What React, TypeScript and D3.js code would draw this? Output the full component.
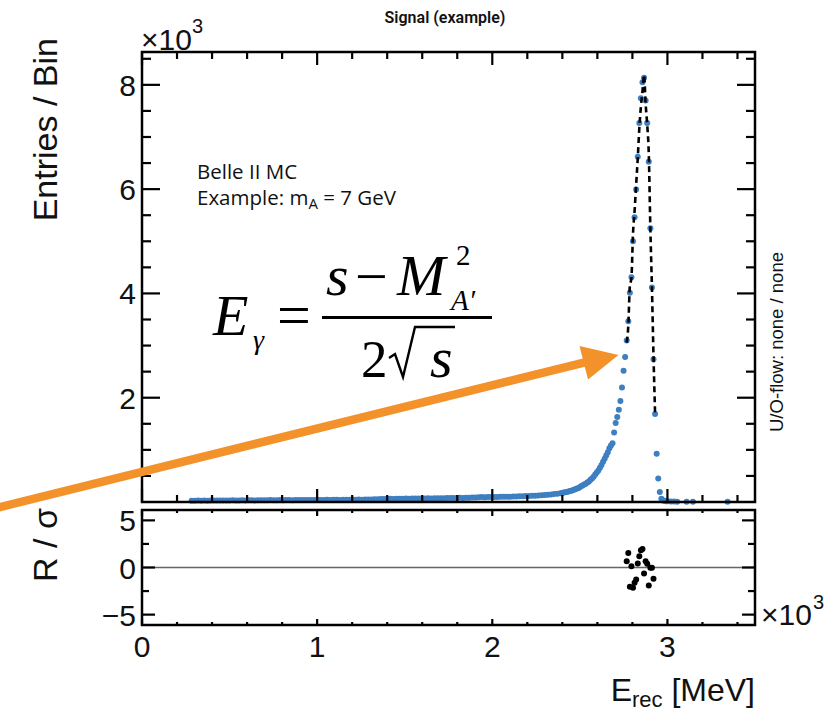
import React from 'react';
import * as d3 from 'd3';

// Histogram binning (E_rec in units of 10^3 MeV)
const BIN_WIDTH = 0.009;

// Low-energy tail: every 2nd bin starting at bin 31
const TAIL_FIRST_BIN = 31;
const TAIL_BIN_STRIDE = 2;
const tailEntries = [
  22, 25, 27, 24, 28, 26, 29, 27, 30, 28, 31, 29, 30, 32, 29,
  31, 33, 30, 32, 34, 31, 33, 35, 32, 34, 36, 33, 35, 37, 34,
  36, 38, 35, 37, 39, 36, 38, 40, 37, 39, 41, 38, 40, 42, 39,
  41, 43, 40, 42, 45, 43, 46, 44, 47, 45, 48, 50, 47, 52, 55,
  58, 56, 60, 62, 59, 61, 64, 62, 65, 63, 66, 68, 65, 69, 67,
  70, 68, 72, 71, 74, 72, 76, 75, 78, 76, 80, 79, 82, 81, 84,
  86, 90, 95, 92, 96, 94, 98, 96, 100, 99, 103, 101, 105, 104, 108,
  110, 113, 116, 119, 122, 126, 130, 135, 140, 146, 152, 159, 166,
];

// Rising edge and peak: every bin from bin 266 to 329
const PEAK_FIRST_BIN = 266;
const peakEntries = [
  172, 180, 186, 194, 201, 210, 218, 228, 238, 252, 265, 280,
  300, 318, 335, 352, 372, 395, 425, 452, 485, 525, 565, 605, 655, 710, 770, 830, 890, 955, 1030, 1085,
  1128, 1333, 1513, 1628, 1769, 1936, 2198, 2519, 2782, 3096, 3468, 4013, 4308, 5000, 5462, 5994,
  6622, 7269, 7744, 8051, 8135, 7699, 7269, 6526, 5250, 4115, 2737, 1686, 923, 449, 192, 64,
];

// Sparse bins above the peak
const sparseBins = [330, 331, 332, 333, 335, 337, 339, 345, 349, 371];
const sparseEntries = [30, 22, 16, 12, 10, 8, 6, 5, 4, 3];

// Fit curve (dashed), bins 307..325
const FIT_FIRST_BIN = 307;
const fitEntries = [
  3059, 3377, 4141, 4299, 5151, 5582, 6092, 6588, 7167, 7584, 7874, 8192, 7640, 7236, 6680, 5252, 4117, 2799, 1700,
];

// Pulls R / sigma, bins 307..324
const PULL_FIRST_BIN = 307;
const pulls = [
  0.67, 1.55, -2.03, 0.14, -2.14, -1.62, -1.27, 0.42, 1.2, 1.82, 1.97, -0.63, 0.67, 0.39, -1.9, -0.03, -0.03, -1.19,
];

const xTickLabels = ['0', '1', '2', '3'];
const xMajorTicks = [0, 1, 2, 3];
const yMajorTicks = [2, 4, 6, 8]; // x10^3
const pullMajorTicks = [-5, 0, 5];
const pullMinorTicks = [-2.5, 2.5];

const W = 838;
const H = 712;
const L = 142;
const R = 755;
const MAIN_TOP = 52;
const MAIN_BOTTOM = 502;
const PULL_TOP = 510;
const PULL_BOTTOM = 625;

const BLUE = '#3d7fc1';
const ORANGE = '#f3922a';
const SANS = '"Liberation Sans", Arial, Helvetica, sans-serif';
const SERIF = '"Liberation Serif", "Times New Roman", serif';
const TXT = '"Open Sans", "Noto Sans", sans-serif';

const center = (bin: number) => (bin + 0.5) * BIN_WIDTH;

export default function App() {
  const x = d3.scaleLinear().domain([0, 3.5]).range([L, R]);
  const y = d3.scaleLinear().domain([0, 8630]).range([MAIN_BOTTOM, MAIN_TOP]);
  const yp = d3.scaleLinear().domain([-6.1, 6.1]).range([PULL_BOTTOM, PULL_TOP]);

  const points: [number, number][] = [];
  tailEntries.forEach((v, k) => points.push([center(TAIL_FIRST_BIN + k * TAIL_BIN_STRIDE), v]));
  peakEntries.forEach((v, k) => points.push([center(PEAK_FIRST_BIN + k), v]));
  sparseBins.forEach((b, k) => points.push([center(b), sparseEntries[k]]));

  const fitPts: [number, number][] = fitEntries.map((v, k) => [center(FIT_FIRST_BIN + k), v]);
  const pullPts: [number, number][] = pulls.map((v, k) => [center(PULL_FIRST_BIN + k), v]);

  const fitLine = d3
    .line<[number, number]>()
    .x((d) => x(d[0]))
    .y((d) => y(d[1]))
    .curve(d3.curveMonotoneX);

  const xMinor = d3.range(0, 3.5001, 0.2).filter((v) => Math.abs(v - Math.round(v)) > 1e-6);
  const yMinor = d3.range(500, 8630, 500).filter((v) => v % 2000 !== 0);

  const tickStroke = { stroke: '#000', strokeWidth: 2.2 };

  return (
    <svg width={W} height={H} style={{ position: 'absolute', left: 0, top: 0, background: '#fff' }}>
      <rect x={0} y={0} width={W} height={H} fill="#fff" />

      {/* title */}
      <text x={445} y={23} textAnchor="middle" fontFamily='Roboto, "Open Sans", sans-serif' fontWeight={600} fontSize={16} fill="#111">
        Signal (example)
      </text>

      {/* x10^3 top left */}
      <text x={141} y={50} fontFamily={SANS} fontSize={30} fill="#111">
        ×10
      </text>
      <text x={192} y={33} fontFamily={SANS} fontSize={20} fill="#111">
        3
      </text>

      {/* main data points */}
      <g fill={BLUE}>
        {points.map((d, i) => (
          <circle key={i} cx={x(d[0])} cy={y(d[1])} r={3} />
        ))}
      </g>

      {/* fit curve */}
      <path d={fitLine(fitPts) || ''} fill="none" stroke="#000" strokeWidth={2.6} strokeDasharray="6 4" />

      {/* main frame */}
      <rect x={L} y={MAIN_TOP} width={R - L} height={MAIN_BOTTOM - MAIN_TOP} fill="none" stroke="#000" strokeWidth={2.5} />
      {xMajorTicks.map((t) => (
        <g key={'mx' + t}>
          <line x1={x(t)} x2={x(t)} y1={MAIN_BOTTOM} y2={MAIN_BOTTOM - 13} {...tickStroke} />
          <line x1={x(t)} x2={x(t)} y1={MAIN_TOP} y2={MAIN_TOP + 13} {...tickStroke} />
        </g>
      ))}
      {xMinor.map((t) => (
        <g key={'mnx' + t}>
          <line x1={x(t)} x2={x(t)} y1={MAIN_BOTTOM} y2={MAIN_BOTTOM - 7} {...tickStroke} />
          <line x1={x(t)} x2={x(t)} y1={MAIN_TOP} y2={MAIN_TOP + 7} {...tickStroke} />
        </g>
      ))}
      {yMajorTicks.map((t) => (
        <g key={'my' + t}>
          <line x1={L} x2={L + 18} y1={y(t * 1000)} y2={y(t * 1000)} {...tickStroke} />
          <line x1={R} x2={R - 18} y1={y(t * 1000)} y2={y(t * 1000)} {...tickStroke} />
          <text x={136} y={y(t * 1000) + 11} textAnchor="end" fontFamily={SANS} fontSize={30} fill="#111">
            {t}
          </text>
        </g>
      ))}
      {yMinor.map((t) => (
        <g key={'mny' + t}>
          <line x1={L} x2={L + 9} y1={y(t)} y2={y(t)} {...tickStroke} />
          <line x1={R} x2={R - 9} y1={y(t)} y2={y(t)} {...tickStroke} />
        </g>
      ))}

      {/* y title */}
      <text transform={`translate(57,38) rotate(-90)`} textAnchor="end" fontFamily={SANS} fontSize={34} fill="#111">
        Entries / Bin
      </text>

      {/* U/O flow */}
      <text transform={`translate(783,432) rotate(-90)`} textAnchor="start" fontFamily={SANS} fontSize={18.5} fill="#111">
        U/O-flow: none / none
      </text>

      {/* Belle II text */}
      <text x={197} y={179} fontFamily={TXT} fontSize={20.5} fill="#111">
        Belle II MC
      </text>
      <text x={197} y={205} fontFamily={TXT} fontSize={20.5} fill="#111">
        Example: m<tspan fontSize={15} dy={4}>A</tspan>
        <tspan dy={-4}> = 7 GeV</tspan>
      </text>

      {/* formula */}
      <g fontFamily={SERIF} fill="#000">
        <text x={213} y={335} fontSize={58} fontStyle="italic">E</text>
        <text x={253} y={349} fontSize={28} fontStyle="italic">γ</text>
        <text x={277} y={335} fontSize={60}>=</text>
        <line x1={322} x2={492} y1={317.5} y2={317.5} stroke="#000" strokeWidth={3.2} />
        <text x={326} y={295} fontSize={58} fontStyle="italic">s</text>
        <text x={355} y={296} fontSize={58}>−</text>
        <text x={397} y={295} fontSize={58} fontStyle="italic">M</text>
        <text x={456} y={265} fontSize={29}>2</text>
        <text x={451} y={310} fontSize={29} fontStyle="italic">A′</text>
        <text x={361} y={377} fontSize={53}>2</text>
        <path d="M389,358 L395,354 L403,377 L415,327 L455,327" fill="none" stroke="#000" strokeWidth={2.4} />
        <text x={430} y={377} fontSize={58} fontStyle="italic">s</text>
      </g>

      {/* pull panel */}
      <line x1={L} x2={R} y1={yp(0)} y2={yp(0)} stroke="#666" strokeWidth={1.6} />
      <g fill="#000">
        {pullPts.map((d, i) => (
          <circle key={i} cx={x(d[0])} cy={yp(d[1])} r={3} />
        ))}
      </g>
      <rect x={L} y={PULL_TOP} width={R - L} height={PULL_BOTTOM - PULL_TOP} fill="none" stroke="#000" strokeWidth={2.5} />
      {xMajorTicks.map((t) => (
        <g key={'px' + t}>
          <line x1={x(t)} x2={x(t)} y1={PULL_BOTTOM} y2={PULL_BOTTOM - 6} {...tickStroke} />
          <line x1={x(t)} x2={x(t)} y1={PULL_TOP} y2={PULL_TOP + 6} {...tickStroke} />
        </g>
      ))}
      {xMinor.map((t) => (
        <g key={'pnx' + t}>
          <line x1={x(t)} x2={x(t)} y1={PULL_BOTTOM} y2={PULL_BOTTOM - 3} {...tickStroke} />
          <line x1={x(t)} x2={x(t)} y1={PULL_TOP} y2={PULL_TOP + 3} {...tickStroke} />
        </g>
      ))}
      {pullMajorTicks.map((t) => (
        <g key={'py' + t}>
          <line x1={L} x2={L + 13} y1={yp(t)} y2={yp(t)} {...tickStroke} />
          <line x1={R} x2={R - 13} y1={yp(t)} y2={yp(t)} {...tickStroke} />
          <text x={136} y={yp(t) + 11} textAnchor="end" fontFamily={SANS} fontSize={30} fill="#111">
            {t < 0 ? '−' + Math.abs(t) : String(t)}
          </text>
        </g>
      ))}
      {pullMinorTicks.map((t) => (
        <g key={'pny' + t}>
          <line x1={L} x2={L + 7} y1={yp(t)} y2={yp(t)} {...tickStroke} />
          <line x1={R} x2={R - 7} y1={yp(t)} y2={yp(t)} {...tickStroke} />
        </g>
      ))}
      <text transform={`translate(57,508) rotate(-90)`} textAnchor="end" fontFamily={SANS} fontSize={34} fill="#111">
        R / σ
      </text>

      {/* x tick labels */}
      {xMajorTicks.map((t, i) => (
        <text key={'xl' + t} x={x(t)} y={657} textAnchor="middle" fontFamily={SANS} fontSize={30} fill="#111">
          {xTickLabels[i]}
        </text>
      ))}
      <text x={761} y={625} fontFamily={SANS} fontSize={30} fill="#111">
        ×10
      </text>
      <text x={813} y={609} fontFamily={SANS} fontSize={20} fill="#111">
        3
      </text>

      {/* x title */}
      <text x={R} y={701} textAnchor="end" fontFamily={SANS} fontSize={32} fill="#111">
        E<tspan fontSize={22} dy={6}>rec</tspan>
        <tspan dy={-6}> [MeV]</tspan>
      </text>

      {/* orange arrow */}
      <line x1={-2} y1={507.5} x2={586} y2={362.2} stroke={ORANGE} strokeWidth={8.5} />
      <polygon points="579.5,346 588,379.5 618.5,355" fill={ORANGE} />
    </svg>
  );
}
